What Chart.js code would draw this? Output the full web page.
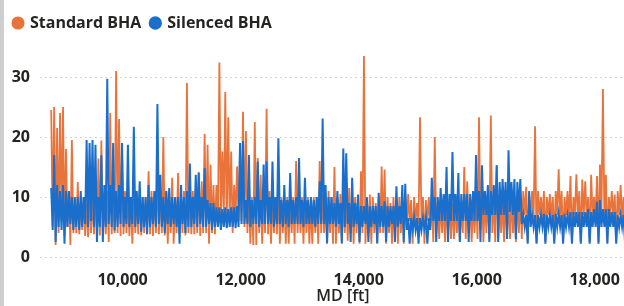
<!DOCTYPE html>
<html><head><meta charset="utf-8">
<script src="https://cdn.jsdelivr.net/npm/chart.js@4.4.1/dist/chart.umd.min.js"></script>
<style>
html,body{margin:0;padding:0;overflow:hidden;background:#fff;width:624px;height:306px;}
#bar{position:absolute;left:0;top:0;width:4px;height:306px;background:#cfcfcf;}
#wrap{position:absolute;left:4px;top:0;width:642px;height:306px;}
</style></head><body>
<div id="bar"></div>
<div id="wrap"><canvas id="c" width="642" height="306"></canvas></div>
<script>
const MD_START = 8790;
const MD_STEP = 25;
const standardBHA = [
24.5,5, 25,2, 21.5,4, 24,6, 25,3.5, 18,5, 11,2, 19.5,4,
9,4, 12.5,3.8, 9,4.5, 10,3.5, 9,3.3, 11,4, 10,3.8, 11,3.6,
16.4,3.6, 19.4,4, 10,3.8, 11,2.5, 24,3.8, 10,4, 31,4, 23,3.5,
18,3.8, 11,4, 11,3.5, 10,2.2, 11,4, 10,3.8, 11,3.6, 10,4,
10,4, 14.3,3.8, 11,3.5, 11,4, 13.7,3.8, 11,4, 20,3.6, 11,2.2,
10,4, 13.2,2.2, 10,4, 14,3.8, 10,4, 11,3.6, 29,4, 11,3.8,
11,3.8, 11,4, 14.2,3.5, 12.6,4, 20.5,4, 18.7,2.2, 15.4,4, 12,3.8,
12,5, 32.4,6, 17.6,7, 27.5,5, 23.3,6, 17.6,4, 12,7, 15.1,6,
18.4,6, 24.2,5, 21,4, 11,2.2, 10,2, 22.5,2, 16.5,4, 13.7,2.2,
10,4, 24.7,3.8, 11,2.2, 10,4, 10,3.8, 11.5,2.2, 10,4, 10,2.2,
10,2.2, 10,4, 10,2.2, 16,4, 10,4, 10,2.2, 10,4, 10,2.2,
9,2.2, 10,4, 10,2.2, 16,4, 10.4,4, 10,2.2, 11,4, 10,2.2,
15,2.2, 10,4, 10.5,2.2, 10,4, 10,2.7, 11.5,4, 10,2.2, 10,4,
9,2.2, 14.3,4, 33.5,2.2, 10,4, 10.4,2.2, 10,4, 9,2.2, 10,4,
15.1,4, 14.6,2.2, 10,4, 9,2.2, 10,4, 9,2.2, 10,4, 9,2.2,
10,5, 10.5,6, 9.5,2.2, 10,6, 9,5.5, 23.3,6, 10,2.2, 9.5,6,
10,5, 10,2.5, 20,4, 9,3, 9,4, 9,2.5, 9,4, 9,3,
9,3, 9,4, 9,2.5, 9,4, 15,3, 12.6,4, 9,2.5, 9,4,
10,3, 23.3,4.5, 11.5,2.5, 10,4, 10,3, 23.6,4, 10,2.5, 15.3,3,
9,4, 9,2.5, 10,4, 9,3, 10,4, 9,2.5, 10,4, 10,3,
11,7, 11.7,2.5, 10,7, 11,6.5, 21.8,2.5, 11,7, 10,6.5, 11,2.5,
10,7, 10.5,6.5, 10,2.7, 11,7, 14.6,6.5, 11,2.5, 10,7, 11,6.5,
13.5,2.5, 10,7, 13.8,6.5, 11,2.5, 12.9,7, 12.6,6.5, 10,2.5, 13.7,7,
10,6.5, 13.5,2.5, 15.4,7, 28,6.5, 13.7,2.5, 10,7, 11,6.5, 10.4,2.5,
11,7, 12,6.5, 10,2.5, 11,7, 10,6.5, 11,2.5, 10,7, 11,6.5
];
const silencedBHA = [
11.5,4.5, 17,2.5, 12,5, 11,4.5, 12,2.2, 11,5, 11,5.5, 10,4.5,
10,5, 10,4.5, 11,5, 10,5.5, 19.5,5, 19,6, 19.5,5, 18.7,2.5,
10,5, 17,2.5, 12,5, 29.7,5.5, 12,5, 19,4.4, 11,5, 12,5.5,
19,5, 10,5.5, 18.7,5, 10,5.5, 21.7,5, 11,5.5, 12.6,4.2, 10,5,
10,3.8, 12,5, 10,5.5, 11,5, 25.5,5.5, 13.7,5, 10,4, 11,5.5,
11.5,5, 10,5.5, 10,5, 10,2.2, 12,5.5, 10,4, 11,5, 15.6,5,
10,5.5, 13.7,5, 14,5.5, 10,5, 14.8,5, 9.5,5.5, 9,4.5, 9,5,
8.3,5, 8.3,4.5, 8,5, 8.3,4.8, 8,5, 8.3,5, 8.3,4.8, 8.5,5,
19,5.5, 19.3,5.5, 9.5,5.5, 17,5, 9.5,5.5, 10,5.5, 15.9,5, 9.5,5.5,
15.4,5.5, 15.9,5.5, 10,5.5, 15.9,5, 10,5.5, 19.8,5.5, 9.5,5, 12,5.5,
9.5,5, 14,5.5, 9.5,5.5, 10,5.5, 16.5,5.5, 9.5,5, 13.2,5.5, 9.5,5.5,
10,5.5, 9.5,5, 10,5.5, 12.6,5.5, 23.1,5.5, 12,2.3, 10,5.5, 10,5.5,
9,5, 11,5.5, 9,2.3, 18.1,5, 17.3,5.5, 9,2.5, 13.2,5, 9,5.5,
10.4,2.5, 8.5,5, 8.5,5.5, 9.9,2.5, 8.5,5, 8.5,5.5, 8.5,2.3, 10.7,5,
8.5,5, 9.3,2.5, 8.5,5, 8.5,5.5, 8.5,2.5, 11.8,5, 8.5,5.5, 12,2.5,
12.2,4.5, 6.5,2.2, 6.5,4.5, 6.6,4.5, 6.5,2.2, 6.5,4.5, 6.5,4.8, 6.5,2.2,
6.5,4.5, 13.2,6, 10,2.5, 10,6, 11.5,6, 10.5,6, 15,2.5, 10.5,6,
17.5,6, 10.5,6, 14,2.5, 10.5,6, 10.5,6, 10.5,2.5, 10.5,6, 11,6,
17,6, 11,2.5, 15.3,7, 11,7, 12,2.5, 11,7, 12,7, 15.3,2.5,
12.5,7, 13,7, 12.5,3, 17.8,7.5, 12.5,7, 13,3, 12.5,7.5, 13,5.5,
7,5, 7,2.2, 11,5, 7,5, 7,2.2, 7,5, 7,5, 7.2,2.2,
7,5, 7,5, 7,2.2, 7.2,5, 7.2,5, 7,2.2, 7.2,5, 7,5,
7.5,2.2, 7.5,5, 7.5,5, 7.5,2.2, 7.5,5, 7.5,5, 8,2.2, 7.5,5,
8,5, 9.2,2.2, 9.5,5, 8,5, 8,2.2, 8,5, 7.5,5, 7.5,2.2,
7,5, 7,5, 7,2.2, 7,5, 7,5, 7,2.2, 7,5, 7,5
];
const xTicks = [10000,12000,14000,16000,18000];
const yTicks = [0,10,20,30];
const seriesNames = ['Standard BHA','Silenced BHA'];
const seriesColors = ['#E8743B','#1A6FCC'];

const md = standardBHA.map((_, i) => MD_START + i * MD_STEP);
const pts = arr => arr.map((v, i) => ({x: md[i], y: v}));
const tickFont = {family:'Open Sans', size:16, weight:'bold'};
const ink = '#252423';

new Chart(document.getElementById('c'), {
  type: 'line',
  data: {
    datasets: [
      {label: seriesNames[0], data: pts(standardBHA), borderColor: seriesColors[0], backgroundColor: seriesColors[0], borderWidth: 1.8, pointRadius: 0, tension: 0, order: 1},
      {label: seriesNames[1], data: pts(silencedBHA), borderColor: seriesColors[1], backgroundColor: seriesColors[1], borderWidth: 2, pointRadius: 0, tension: 0, order: 0}
    ]
  },
  options: {
    responsive: false, animation: false, devicePixelRatio: 1,
    layout: {padding: {left: 0, right: 0, top: 5, bottom: 0}},
    plugins: {
      tooltip: {enabled: false},
      legend: {position: 'top', align: 'start',
        labels: {usePointStyle: true, pointStyle: 'circle', boxWidth: 8, boxHeight: 8, padding: 10, color: ink,
          font: {family: 'Open Sans', size: 16, weight: 'bold'},
          sort: (a, b) => a.datasetIndex - b.datasetIndex}}
    },
    scales: {
      x: {type: 'linear', min: 8600, max: 18870,
        afterBuildTicks: s => { s.ticks = xTicks.map(v => ({value: v})); },
        ticks: {autoSkip: false, maxRotation: 0, padding: 6, color: ink, font: tickFont,
          callback: v => Number(v).toLocaleString('en-US')},
        grid: {display: false}, border: {display: false},
        title: {display: true, text: 'MD [ft]', padding: 0, color: ink, font: {family: 'Open Sans', size: 16, weight: '600'}},
        afterFit: s => { s.height = 49; }
      },
      y: {min: 0, max: 36,
        afterBuildTicks: s => { s.ticks = yTicks.map(v => ({value: v})); },
        ticks: {padding: 10, color: ink, font: tickFont},
        grid: {color: '#d4d4d4', lineWidth: 1, drawTicks: false},
        border: {display: false, dash: [2, 3]},
        afterFit: s => { s.width = 36; }
      }
    }
  }
});
</script>
</body></html>
